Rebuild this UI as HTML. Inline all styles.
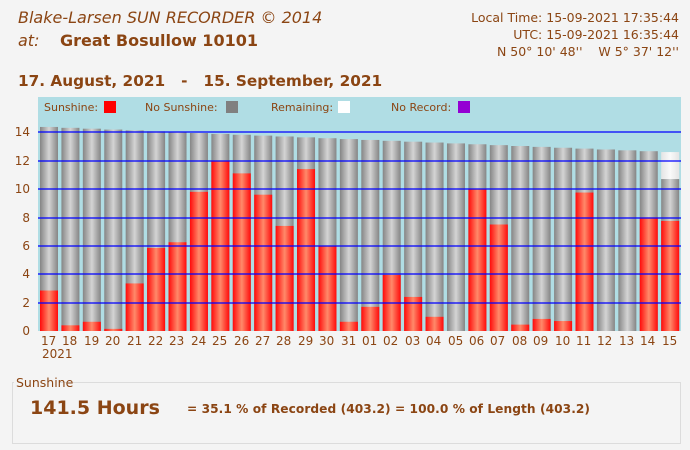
<!DOCTYPE html>
<html><head><meta charset="utf-8"><style>
body{margin:0;width:690px;height:450px;background:#f4f4f4;font-family:"DejaVu Sans","Liberation Sans",sans-serif;color:#8b4513;position:relative;overflow:hidden}
.a{position:absolute;white-space:nowrap}
</style></head><body>
<div class="a" style="left:18px;top:8px;font-size:16px;font-style:italic;font-family:'DejaVu Sans',sans-serif">Blake-Larsen SUN RECORDER © 2014</div>
<div class="a" style="left:18px;top:31px;font-size:16px;font-style:italic">at:</div>
<div class="a" style="left:60px;top:31px;font-size:16px;font-weight:bold">Great Bosullow 10101</div>
<div class="a" style="right:11px;top:9px;font-size:12.5px;text-align:right;line-height:17px">Local Time: 15-09-2021 17:35:44<br>UTC: 15-09-2021 16:35:44<br>N 50° 10' 48''&nbsp;&nbsp;&nbsp;&nbsp;W 5° 37' 12''</div>
<div class="a" style="left:18px;top:72px;font-size:15.3px;font-weight:bold">17. August, 2021 &nbsp; - &nbsp; 15. September, 2021</div>
<svg class="a" style="left:0;top:0" width="690" height="450">
<defs>
<linearGradient id="g"><stop offset="0" stop-color="#858585"/><stop offset=".5" stop-color="#d4d4d4"/><stop offset="1" stop-color="#858585"/></linearGradient>
<linearGradient id="r"><stop offset="0" stop-color="#ff0a0a"/><stop offset=".5" stop-color="#ff8a6a"/><stop offset="1" stop-color="#ff0a0a"/></linearGradient>
<linearGradient id="w"><stop offset="0" stop-color="#e4e4e4"/><stop offset=".5" stop-color="#fafafa"/><stop offset="1" stop-color="#e4e4e4"/></linearGradient>
</defs>
<rect x="38" y="97" width="643" height="234" fill="#b0dde4"/>
<g id="bars"></g>
<g stroke="#0000ff" stroke-width="1.2">
<line x1="38" x2="681" y1="132" y2="132"/><line x1="38" x2="681" y1="161" y2="161"/><line x1="38" x2="681" y1="189" y2="189"/><line x1="38" x2="681" y1="218" y2="218"/><line x1="38" x2="681" y1="246" y2="246"/><line x1="38" x2="681" y1="274" y2="274"/><line x1="38" x2="681" y1="303" y2="303"/>
</g>
<g font-size="11" fill="#8b4513" font-family="DejaVu Sans,sans-serif">
<rect x="104" y="101" width="12" height="12" fill="#f00"/><text x="44" y="111">Sunshine:</text>
<rect x="226" y="101" width="12" height="12" fill="#808080"/><text x="145" y="111">No Sunshine:</text>
<rect x="338" y="101" width="12" height="12" fill="#fff"/><text x="271" y="111">Remaining:</text>
<rect x="458" y="101" width="12" height="12" fill="#9400d3"/><text x="391" y="111">No Record:</text>
</g>
<g font-size="12" fill="#8b4513" font-family="DejaVu Sans,sans-serif">
<g text-anchor="end"><text x="30" y="136">14</text><text x="30" y="165">12</text><text x="30" y="193">10</text><text x="30" y="222">8</text><text x="30" y="250">6</text><text x="30" y="278">4</text><text x="30" y="307">2</text><text x="30" y="335">0</text></g>
<text x="42" y="358">2021</text>
</g>
<rect x="12.5" y="382.5" width="668" height="61" fill="none" stroke="#dcdcdc"/>
<rect x="14" y="376" width="46" height="12" fill="#f4f4f4"/>
<text x="16" y="387" font-size="12.5" fill="#8b4513" font-family="DejaVu Sans,sans-serif">Sunshine</text>
<text x="30" y="414" font-size="19" font-weight="bold" fill="#8b4513" font-family="DejaVu Sans,sans-serif">141.5 Hours</text>
<text x="187" y="413" font-size="12.2" font-weight="bold" fill="#8b4513" font-family="DejaVu Sans,sans-serif" textLength="403">= 35.1 % of Recorded (403.2) = 100.0 % of Length (403.2)</text>
</svg>
<script>
var s=[2.85,0.4,0.65,0.15,3.35,5.85,6.25,9.8,12.0,11.1,9.6,7.4,11.4,5.95,0.65,1.7,3.95,2.4,1.0,0,10.0,7.5,0.45,0.85,0.7,9.75,0,0,8.0,7.75];
var k=14.2,b=331,h="";
for(var i=0;i<30;i++){var x=40+i*21.42,d=14.37-i*0.061;
if(i==29){h+='<rect x="'+x+'" y="'+(b-12.6*k)+'" width="18" height="'+(1.9*k)+'" fill="url(#w)"/>';d=10.7;}
h+='<rect x="'+x+'" y="'+(b-d*k)+'" width="18" height="'+(d*k)+'" fill="url(#g)"/>';
if(s[i]>0)h+='<rect x="'+x+'" y="'+(b-s[i]*k)+'" width="18" height="'+(s[i]*k)+'" fill="url(#r)"/>';
}
document.getElementById("bars").innerHTML=h;
</script>
<div class="a" style="left:0;top:334px;width:690px;height:16px;font-size:12px">
<span class="a" style="left:41px">17</span><span class="a" style="left:62px">18</span><span class="a" style="left:84px">19</span><span class="a" style="left:105px">20</span><span class="a" style="left:127px">21</span><span class="a" style="left:148px">22</span><span class="a" style="left:169px">23</span><span class="a" style="left:191px">24</span><span class="a" style="left:212px">25</span><span class="a" style="left:234px">26</span><span class="a" style="left:255px">27</span><span class="a" style="left:276px">28</span><span class="a" style="left:298px">29</span><span class="a" style="left:319px">30</span><span class="a" style="left:341px">31</span><span class="a" style="left:362px">01</span><span class="a" style="left:383px">02</span><span class="a" style="left:405px">03</span><span class="a" style="left:426px">04</span><span class="a" style="left:448px">05</span><span class="a" style="left:469px">06</span><span class="a" style="left:490px">07</span><span class="a" style="left:512px">08</span><span class="a" style="left:533px">09</span><span class="a" style="left:555px">10</span><span class="a" style="left:576px">11</span><span class="a" style="left:597px">12</span><span class="a" style="left:619px">13</span><span class="a" style="left:640px">14</span><span class="a" style="left:662px">15</span>
</div>
</body></html>
